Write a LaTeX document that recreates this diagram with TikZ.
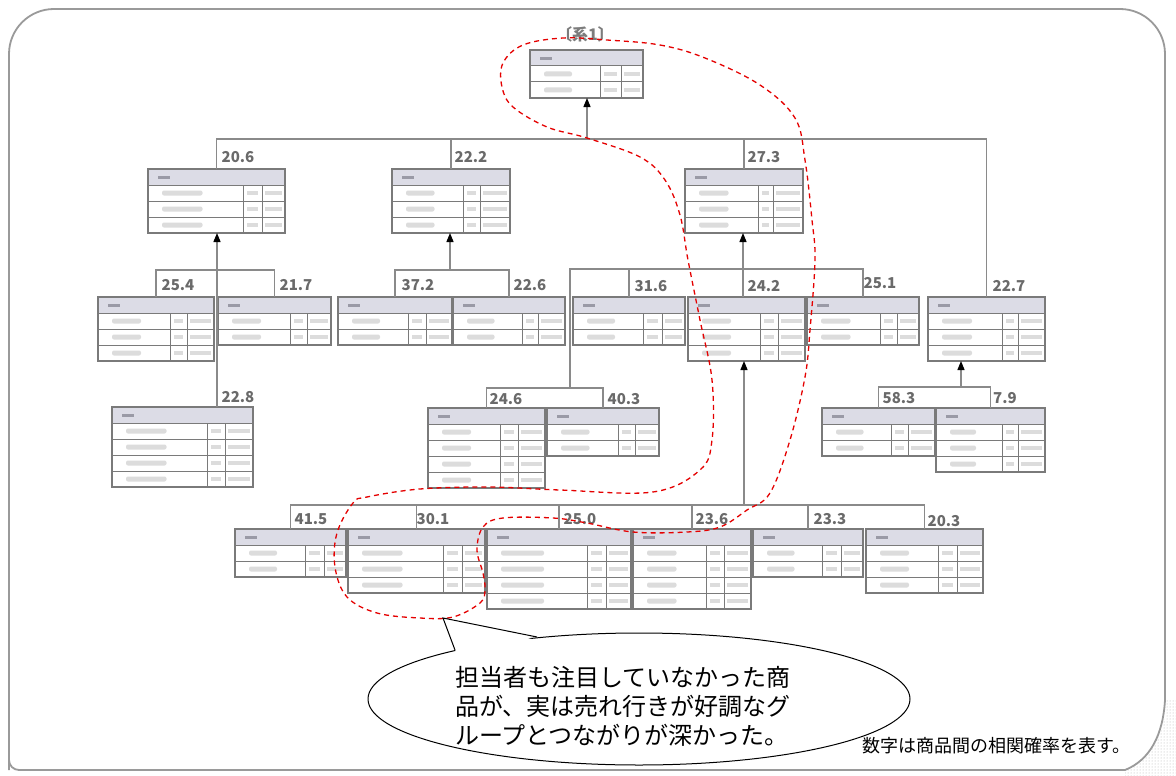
\documentclass[tikz,border=0pt]{standalone}
\usepackage{fontspec}
\newfontfamily\jp{Noto Sans CJK JP}
\usetikzlibrary{arrows.meta,shapes.geometric,calc,patterns}
\definecolor{tblc}{HTML}{7A7A7A}
\definecolor{hdrc}{HTML}{DCDCE6}
\definecolor{hdrtxt}{HTML}{9A9AA6}
\definecolor{linec}{HTML}{8A8A8A}
\definecolor{numc}{HTML}{505050}
\definecolor{blurc}{HTML}{DCDCDC}
\definecolor{framec}{HTML}{9A9A9A}
\tikzset{
  tblbox/.style={draw=tblc, line width=1.1pt, inner sep=0pt, outer sep=0pt, anchor=north west},
  conn/.style={draw=linec, line width=1.3pt},
  uparrow/.style={conn, -{Triangle[length=9pt,width=7pt]}, arrows={[color=black]}},
  numlbl/.style={font=\jp\bfseries\fontsize{15}{15}\selectfont, text=numc!85, inner sep=0pt},
  hl/.style={draw=red!90!black, line width=1.3pt, dash pattern=on 5pt off 4pt},
}
\newcommand{\tbl}[7]{%
  \fill[hdrc] (#2,#3) rectangle (#4,#3+16);
  \fill[hdrtxt] (#2+10,#3+7) rectangle (#2+22,#3+10);
  \foreach \k in {1,...,#5}{%
    \draw[tblc, line width=1pt] (#2,#3+16*\k) -- (#4,#3+16*\k);
    \fill[blurc, rounded corners=2pt] (#2+14,#3+16*\k+5.5) rectangle ({#2+14+0.5*(#6-#2-14)},#3+16*\k+10.5);
    \fill[blurc] (#6+4,#3+16*\k+6) rectangle (#7-4,#3+16*\k+10);
    \fill[blurc] (#7+3,#3+16*\k+6) rectangle (#4-3,#3+16*\k+10);
  }
  \draw[tblc, line width=1pt] (#6,#3+16) -- (#6,#3+16*#5+16) (#7,#3+16) -- (#7,#3+16*#5+16);
  \node[tblbox, minimum width={(#4-#2)*1pt}, minimum height={(16*#5+16)*1pt}] (#1) at (#2,#3) {};
}
\begin{document}
\begin{tikzpicture}[x=1pt,y=-1pt]
\useasboundingbox (0,0) rectangle (1176,776);
\fill[white] (0,0) rectangle (1176,776);
% page-curl shadow
\fill[pattern=dots, pattern color=gray!60] (1125,770) .. controls (1150,760) and (1165,735) .. (1167,700) -- (1176,700) -- (1176,776) -- (1125,776) -- cycle;
% outer frame
\draw[framec, line width=1.8pt, rounded corners=45pt] (9,770) -- (9,9) -- (1165,9) -- (1165,120);
\draw[framec, line width=1.8pt] (1165,100) -- (1165,700) .. controls (1163,735) and (1150,760) .. (1125,770) -- (20,770);
\draw[framec, line width=1.8pt, rounded corners=10pt] (30,770) -- (9,770) -- (9,740);

% title
\node[font=\jp\bfseries\fontsize{16}{16}\selectfont, text=numc!75] (title) at (585,34) {〔系1〕};

% tables
\tbl{t0}{530}{50}{643}{2}{600}{621}
\tbl{t206}{148}{169}{285}{3}{243}{262}
\tbl{t222}{392}{169}{510}{3}{463}{480}
\tbl{t273}{685}{169}{803}{3}{758}{773}
\tbl{t254}{98}{297}{214}{3}{170}{187}
\tbl{t217}{218}{297}{331}{2}{290}{307}
\tbl{t372}{338}{297}{452}{2}{408}{426}
\tbl{t226}{453}{297}{565}{2}{522}{538}
\tbl{t316}{573}{297}{685}{2}{643}{662}
\tbl{t242}{688}{297}{805}{3}{760}{778}
\tbl{t251}{807}{297}{919}{2}{880}{897}
\tbl{t227}{928}{297}{1045}{3}{1002}{1018}
\tbl{t228}{112}{407}{253}{4}{207}{225}
\tbl{t246}{428}{408}{545}{4}{500}{518}
\tbl{t403}{547}{408}{659}{2}{618}{635}
\tbl{t583}{822}{408}{935}{2}{891}{908}
\tbl{t79}{936}{408}{1045}{3}{1002}{1018}
\tbl{t415}{235}{529}{346}{2}{305}{324}
\tbl{t301}{348}{529}{485}{3}{443}{462}
\tbl{t250}{487}{529}{631}{4}{587}{606}
\tbl{t236}{633}{529}{751}{4}{706}{724}
\tbl{t233}{753}{529}{863}{2}{822}{841}
\tbl{t203}{866}{529}{983}{3}{938}{957}

% junction coordinates
\coordinate (j0) at (587,139);
\coordinate (j1) at (217,270);
\coordinate (j2) at (450,270);
\coordinate (j3) at (743,269);
\coordinate (j4) at (570,388);
\coordinate (j5) at (744,505);
\coordinate (j6) at (961,387);

% level 0
\draw[uparrow] (j0) -- (j0 |- t0.south);
\draw[conn] (t206.north) |- (j0) -| (t227.north);
\draw[conn] (t222.north) -- (t222.north |- j0);
\draw[conn] (t273.north) -- (t273.north |- j0);
% 20.6 group
\draw[uparrow] (t228.north -| j1) -- (j1 |- t206.south);
\draw[conn] (t254.north) |- (j1) -| (t217.north);
% 22.2 group
\draw[uparrow] (j2) -- (j2 |- t222.south);
\draw[conn] (t372.north) |- (j2) -| (t226.north);
% 27.3 group
\draw[uparrow] (j3) -- (j3 |- t273.south);
\draw[conn] (j4) |- (j3) -| (t251.north);
\draw[conn] (t316.north) -- (t316.north |- j3);
\draw[conn] (t242.north -| j3) -- (j3);
\draw[conn] (t246.north) |- (j4) -| (t403.north);
% 24.2 group
\draw[uparrow] (j5) -- (j5 |- t242.south);
\draw[conn] (t415.north) |- (j5) -| (t203.north);
\draw[conn] (t301.north) -- (t301.north |- j5);
\draw[conn] (t250.north) -- (t250.north |- j5);
\draw[conn] (t236.north) -- (t236.north |- j5);
\draw[conn] (t233.north) -- (t233.north |- j5);
% 22.7 group
\draw[uparrow] (j6) -- (j6 |- t227.south);
\draw[conn] (t583.north) |- (j6) -| (t79.north);

% labels
\node[numlbl] (l206) at (238,157) {20.6};
\node[numlbl] (l222) at (471,157) {22.2};
\node[numlbl] (l273) at (764,157) {27.3};
\node[numlbl] (l254) at (178,285) {25.4};
\node[numlbl] (l217) at (296,285) {21.7};
\node[numlbl] (l372) at (418,285) {37.2};
\node[numlbl] (l226) at (530,285) {22.6};
\node[numlbl] (l316) at (651,286) {31.6};
\node[numlbl] (l242) at (764,286) {24.2};
\node[numlbl] (l251) at (880,283) {25.1};
\node[numlbl] (l227) at (1009,286) {22.7};
\node[numlbl] (l228) at (238,397) {22.8};
\node[numlbl] (l246) at (506,399) {24.6};
\node[numlbl] (l403) at (624,399) {40.3};
\node[numlbl] (l583) at (899,398) {58.3};
\node[numlbl] (l79) at (1005,398) {7.9};
\node[numlbl] (l415) at (311,519) {41.5};
\node[numlbl] (l301) at (433,519) {30.1};
\node[numlbl] (l250) at (580,519) {25.0};
\node[numlbl] (l236) at (712,519) {23.6};
\node[numlbl] (l233) at (830,519) {23.3};
\node[numlbl] (l203) at (944,521) {20.3};

% red dashed highlight
\draw[hl] plot[smooth cycle, tension=0.6] coordinates {
 (607,40) (660,45) (705,58) (760,85) (795,118) (805,160) (812,220) (815,260) (810,330) (805,377) (790,440) (770,493) (747,510) (720,527) (687,532) (633,532) (587,523) (553,518) (503,518) (483,527) (477,550) (483,573) (485,590) (480,603) (453,617) (420,618) (377,613) (347,597) (335,567) (337,533) (353,503) (367,497) (420,489) (490,487) (560,490) (653,492) (700,470) (712,440) (712,380) (700,320) (688,260) (680,215) (665,180) (640,157) (587,138) (547,127) (513,107) (502,87) (503,63) (523,45) (563,38)};

% speech bubble
\node[ellipse, draw=black, line width=1pt, fill=white, minimum width=542pt, minimum height=132pt, inner sep=0pt] (bubble) at (639,699) {};
\coordinate (tip) at (443,618);
\fill[white] (456,652) -- (tip) -- (536,640) -- cycle;
\draw[black, line width=1pt] (455,650) -- (tip) -- (537,637);
\node[font=\jp\fontsize{24}{29}\selectfont, align=left, anchor=west, inner sep=0pt] (btext) at (455,706) {担当者も注目していなかった商\\品が、実は売れ行きが好調なグ\\ループとつながりが深かった。};

% footnote
\node[font=\jp\fontsize{18}{18}\selectfont, anchor=west, inner sep=0pt] (note) at (862,746) {数字は商品間の相関確率を表す。};
\end{tikzpicture}
\end{document}
